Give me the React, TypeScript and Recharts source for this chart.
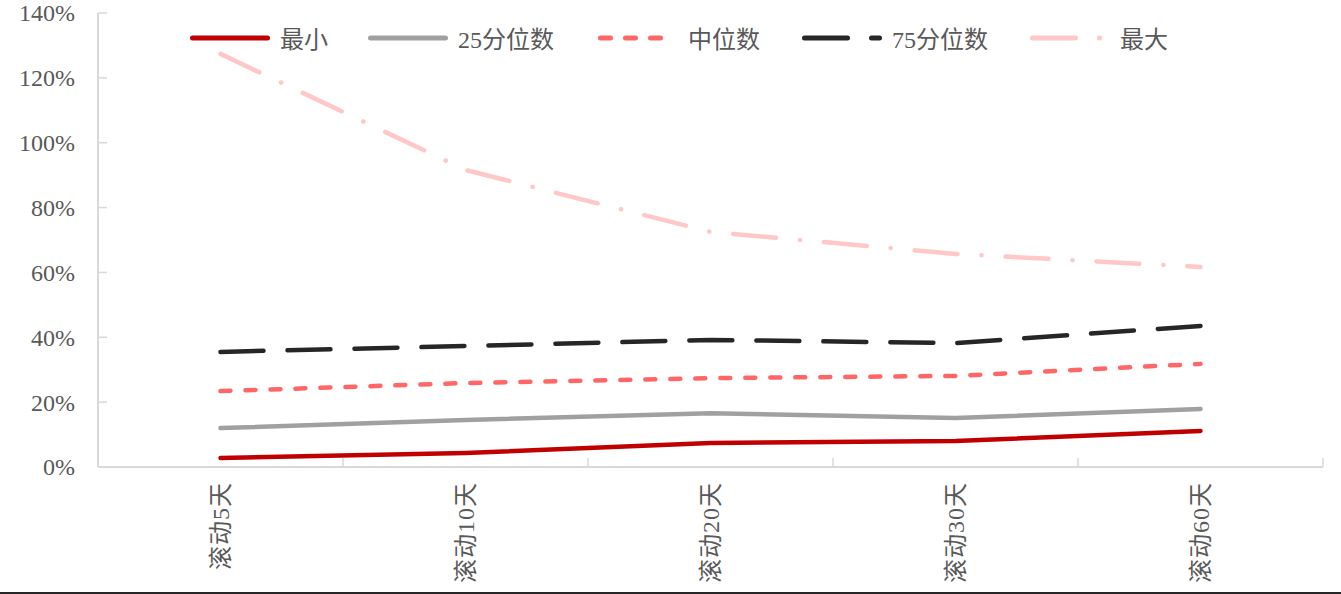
import { LineChart, Line, XAxis, YAxis } from "recharts";

const categories = ["滚动5天", "滚动10天", "滚动20天", "滚动30天", "滚动60天"];
const minValues = [2.8, 4.3, 7.4, 8.0, 11.1];
const p25Values = [12.0, 14.5, 16.6, 15.1, 17.9];
const medianValues = [23.4, 25.9, 27.4, 28.1, 31.8];
const p75Values = [35.5, 37.3, 39.2, 38.2, 43.5];
const maxValues = [127.4, 91.6, 72.5, 65.7, 61.7];
const yTicks = [0, 20, 40, 60, 80, 100, 120, 140];

const seriesNames = ["最小", "25分位数", "中位数", "75分位数", "最大"];
const seriesKeys = ["min", "p25", "median", "p75", "max"];

const data = categories.map((name, i) => ({
    name,
    min: minValues[i],
    p25: p25Values[i],
    median: medianValues[i],
    p75: p75Values[i],
    max: maxValues[i],
}));

const styles = [
    { color: "#c00000", dash: undefined },
    { color: "#a0a0a0", dash: undefined },
    { color: "#ff6666", dash: "10 15" },
    { color: "#262626", dash: "43 24" },
    { color: "#ffc7c7", dash: "43 24 0.1 24" },
];
const legendX = [190, 368, 598, 802, 1030];

const W = 1341;
const H = 592;
const AXIS_W = 98;
const RIGHT = 18;
const BAND = (W - AXIS_W - RIGHT) / categories.length;
const FONT = "'Liberation Serif', 'Times New Roman', 'DejaVu Serif', 'Noto Sans CJK SC', serif";
const TEXT = "#595959";
const AXIS = "#d9d9d9";

const YTick = ({ x, y, payload }: any) => (
    <g>
        <line x1={x} x2={x + 9} y1={y} y2={y} stroke={AXIS} strokeWidth={1.5} />
        <text x={x - 23} y={y} dy="0.35em" textAnchor="end" fontSize={24} fill={TEXT} style={{ fontFamily: FONT }}>
            {payload.value}%
        </text>
    </g>
);

const XTick = ({ x, y, payload, index }: any) => {
    const left = x - BAND / 2;
    const right = x + BAND / 2;
    return (
        <g>
            <line x1={left} x2={left} y1={y - 9} y2={y} stroke={AXIS} strokeWidth={1.5} />
            {index === categories.length - 1 && (
                <line x1={right} x2={right} y1={y - 9} y2={y} stroke={AXIS} strokeWidth={1.5} />
            )}
            <text
                x={x}
                y={y + 15}
                transform={`rotate(-90, ${x}, ${y + 15})`}
                textAnchor="end"
                dy="0.35em"
                fontSize={24}
                fill={TEXT}
                style={{ fontFamily: FONT }}
                letterSpacing={1}
            >
                {payload.value}
            </text>
        </g>
    );
};

const App = () => {
    return (
        <div
            style={{
                position: "absolute",
                top: 0,
                left: 0,
                width: W,
                height: 594,
                background: "#fff",
                borderBottom: "2px solid #262626",
                boxSizing: "border-box",
            }}
        >
            {seriesNames.map((name, i) => (
                <div
                    key={name}
                    style={{
                        position: "absolute",
                        left: legendX[i],
                        top: 20,
                        display: "flex",
                        alignItems: "center",
                        fontFamily: FONT,
                        fontSize: 24,
                        color: TEXT,
                        whiteSpace: "nowrap",
                        zIndex: 1,
                    }}
                >
                    <svg width={80} height={10} style={{ marginRight: 10 }}>
                        <line
                            x1={2.5}
                            x2={77.5}
                            y1={5}
                            y2={5}
                            stroke={styles[i].color}
                            strokeWidth={5}
                            strokeLinecap="round"
                            strokeDasharray={styles[i].dash}
                        />
                    </svg>
                    <span>{name}</span>
                </div>
            ))}
            <LineChart width={W} height={H} data={data} margin={{ top: 13, right: RIGHT, left: 0, bottom: 0 }}>
                <XAxis
                    dataKey="name"
                    height={H - 467}
                    padding={{ left: BAND / 2, right: BAND / 2 }}
                    axisLine={{ stroke: AXIS, strokeWidth: 2 }}
                    tickLine={false}
                    tickSize={0}
                    tickMargin={0}
                    tick={<XTick />}
                    interval={0}
                />
                <YAxis
                    width={AXIS_W}
                    domain={[0, 140]}
                    ticks={yTicks}
                    axisLine={{ stroke: AXIS, strokeWidth: 2 }}
                    tickLine={false}
                    tickSize={0}
                    tickMargin={0}
                    tick={<YTick />}
                    interval={0}
                />
                {seriesKeys.map((key, i) => (
                    <Line
                        key={key}
                        type="linear"
                        dataKey={key}
                        name={seriesNames[i]}
                        stroke={styles[i].color}
                        strokeWidth={4.5}
                        strokeLinecap="round"
                        strokeLinejoin="round"
                        strokeDasharray={styles[i].dash}
                        dot={false}
                        activeDot={false}
                        isAnimationActive={false}
                    />
                ))}
            </LineChart>
        </div>
    );
};

export default App;
